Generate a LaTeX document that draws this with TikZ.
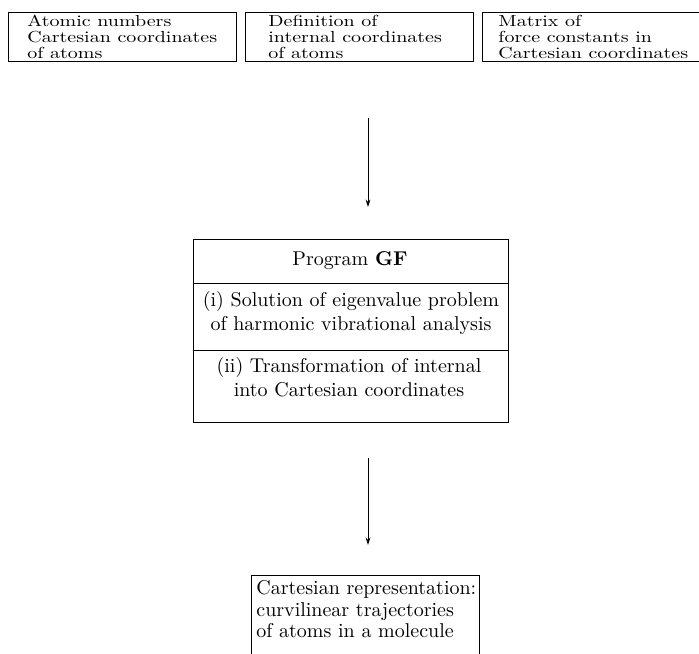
\documentclass[tikz,border=0pt]{standalone}
\usetikzlibrary{arrows.meta}
\begin{document}
\begin{tikzpicture}[x=0.5pt,y=-0.5pt,
  box/.style={draw, line width=0.5pt, rectangle, inner sep=0pt},
  txt/.style={inner sep=0pt, font=\fontsize{10}{12}\selectfont},
  arr/.style={line width=0.5pt, -{Stealth[length=3.8pt,width=2.4pt]}}]
\useasboundingbox (0,0) rectangle (699,653);

% top row of input boxes
\node[box, minimum width=114pt, minimum height=24.5pt] (b1) at (122,36.5) {};
\node[box, minimum width=114pt, minimum height=24.5pt] (b2) at (359,36.5) {};
\node[box, minimum width=116pt, minimum height=24.5pt] (b3) at (598,36.5) {};
\node[txt, anchor=west] (t1) at (27,39) {\scalebox{1}[0.8]{\renewcommand\arraystretch{0.8}\begin{tabular}{@{}l@{}}Atomic numbers\\Cartesian coordinates\\of atoms\end{tabular}}};
\node[txt, anchor=west] (t2) at (268,39) {\scalebox{1}[0.8]{\renewcommand\arraystretch{0.8}\begin{tabular}{@{}l@{}}Definition of\\internal coordinates\\of atoms\end{tabular}}};
\node[txt, anchor=west] (t3) at (498,39) {\scalebox{1}[0.8]{\renewcommand\arraystretch{0.8}\begin{tabular}{@{}l@{}}Matrix of\\force constants in\\Cartesian coordinates\end{tabular}}};

% program GF box
\node[box, minimum width=157.5pt, minimum height=91.5pt] (gf) at (350.5,330.5) {};
\coordinate (d1) at (193,283);
\coordinate (d2) at (193,350);
\draw[line width=0.5pt] (gf.west |- d1) -- (gf.east |- d1);
\draw[line width=0.5pt] (gf.west |- d2) -- (gf.east |- d2);
\node[txt] (gft) at (350,261) {Program \textbf{GF}};
\node[txt] (gfi) at (351,314) {\begin{tabular}{@{}c@{}}(i) Solution of eigenvalue problem\\of harmonic vibrational analysis\end{tabular}};
\node[txt] (gfii) at (349,380) {\begin{tabular}{@{}c@{}}(ii) Transformation of internal\\into Cartesian coordinates\end{tabular}};

% result box
\node[box, minimum width=114pt, minimum height=43pt, anchor=north west] (res) at (251,575) {};
\node[txt, anchor=west] (rest) at (256,612) {\renewcommand\arraystretch{0.9}\begin{tabular}{@{}l@{}}Cartesian representation:\\curvilinear trajectories\\of atoms in a molecule\end{tabular}};

% arrows
\coordinate (a1s) at (368,118);
\coordinate (a1e) at (368,207);
\coordinate (a2s) at (368,458);
\coordinate (a2e) at (368,545);
\draw[arr] (a1s) -- (a1e);
\draw[arr] (a2s) -- (a2e);
\end{tikzpicture}
\end{document}
